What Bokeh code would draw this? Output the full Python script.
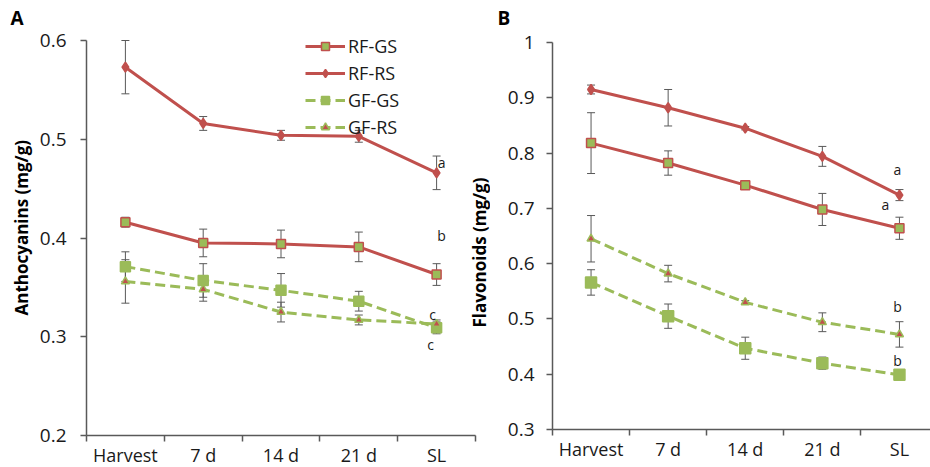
import math
from bokeh.plotting import figure
from bokeh.models import (Range1d, FixedTicker, Whisker, TeeHead, ColumnDataSource,
                          Label, Legend, LegendItem, Title)
from bokeh.layouts import row
from bokeh.embed import file_html
from bokeh.resources import INLINE
from bokeh.core.properties import value

categories = ["Harvest", "7 d", "14 d", "21 d", "SL"]
series_names = ["RF-GS", "RF-RS", "GF-GS", "GF-RS"]

# Panel A: anthocyanins (mg/g)
antho_rf_gs = [0.416, 0.395, 0.394, 0.391, 0.363]
antho_rf_gs_err = [0.005, 0.014, 0.014, 0.015, 0.011]
antho_rf_rs = [0.573, 0.516, 0.504, 0.503, 0.466]
antho_rf_rs_err = [0.027, 0.007, 0.005, 0.006, 0.017]
antho_gf_gs = [0.371, 0.357, 0.347, 0.336, 0.309]
antho_gf_gs_err = [0.015, 0.017, 0.017, 0.010, 0.006]
antho_gf_rs = [0.356, 0.348, 0.325, 0.317, 0.313]
antho_gf_rs_err = [0.022, 0.012, 0.010, 0.005, 0.004]

# Panel B: flavonoids (mg/g)
flav_rf_gs = [0.818, 0.782, 0.742, 0.698, 0.664]
flav_rf_gs_err = [0.055, 0.022, 0.003, 0.029, 0.020]
flav_rf_rs = [0.915, 0.882, 0.845, 0.794, 0.724]
flav_rf_rs_err = [0.008, 0.033, 0.003, 0.018, 0.010]
flav_gf_gs = [0.566, 0.505, 0.447, 0.420, 0.399]
flav_gf_gs_err = [0.023, 0.022, 0.020, 0.011, 0.004]
flav_gf_rs = [0.645, 0.582, 0.530, 0.494, 0.472]
flav_gf_rs_err = [0.042, 0.015, 0.003, 0.017, 0.023]

y_ticks_a = [0.2, 0.3, 0.4, 0.5, 0.6]
y_tick_labels_a = ["0.2", "0.3", "0.4", "0.5", "0.6"]
y_ticks_b = [0.3, 0.4, 0.5, 0.6, 0.7, 0.8, 0.9, 1]
y_tick_labels_b = ["0.3", "0.4", "0.5", "0.6", "0.7", "0.8", "0.9", "1"]

# significance letters at SL (order: RF-RS, RF-GS, GF-RS, GF-GS)
letters_a = ["a", "b", "c", "c"]
letters_b = ["a", "a", "b", "b"]

RED = "#C0504D"
GREEN = "#9BBB59"
AXIS = "#595959"
TXT = "#1a1a1a"
FONT = "Open Sans"

xs = list(range(1, len(categories) + 1))
TOP, BOTTOM = 32, 32


def make_panel(fw, fh, bl, px_x, px_y, y_start, yticks, ylabels, y_standoff, title):
    p = figure(frame_width=fw, frame_height=fh,
               x_range=Range1d(0.5, 0.5 + fw / px_x),
               y_range=Range1d(y_start, y_start + fh / px_y), output_backend="svg",
               toolbar_location=None, min_border_left=bl, min_border_right=0,
               min_border_top=TOP, min_border_bottom=BOTTOM, title=title)
    p.xgrid.visible = False
    p.ygrid.visible = False
    p.outline_line_color = None
    p.background_fill_color = "white"
    p.border_fill_color = "white"
    p.xaxis.bounds = (0.5, 0.5 + len(categories))
    p.xaxis.ticker = FixedTicker(ticks=xs, minor_ticks=[i + 0.5 for i in range(len(categories) + 1)])
    p.xaxis.major_label_overrides = {x: c for x, c in zip(xs, categories)}
    p.xaxis.major_tick_out = 0
    p.xaxis.major_tick_in = 0
    p.xaxis.minor_tick_out = 6
    p.xaxis.minor_tick_in = 0
    p.xaxis.minor_tick_line_color = AXIS
    p.xaxis.minor_tick_line_width = 1.5
    p.xaxis.major_label_standoff = 1
    p.xaxis.major_label_text_font_size = "18px"
    p.yaxis.bounds = (yticks[0], yticks[-1])
    p.yaxis.ticker = FixedTicker(ticks=yticks, minor_ticks=[])
    p.yaxis.major_label_overrides = {t: l for t, l in zip(yticks, ylabels)}
    p.yaxis.major_tick_out = 6
    p.yaxis.major_tick_in = 0
    p.yaxis.major_label_standoff = y_standoff
    p.yaxis.major_label_text_font_size = "19px"
    for ax in (p.xaxis, p.yaxis):
        ax.axis_line_color = AXIS
        ax.axis_line_width = 1.5
        ax.major_tick_line_color = AXIS
        ax.major_tick_line_width = 1.5
        ax.major_label_text_font = FONT
        ax.major_label_text_color = TXT
    p.title.align = "left"
    p.title.standoff = 4
    p.title.text_font = FONT
    p.title.text_font_size = "19px"
    p.title.text_font_style = "bold"
    p.title.text_color = "black"
    return p


def add_series(p, vals, errs, line_color, dash, marker, m_size, m_fill, m_line):
    lr = p.line(xs, vals, line_color=line_color, line_width=3, line_dash=dash)
    sr = p.scatter(xs, vals, marker=marker, size=m_size, fill_color=m_fill,
                   line_color=m_line, line_width=1.5)
    src = ColumnDataSource(dict(x=xs, upper=[v + e for v, e in zip(vals, errs)],
                                lower=[v - e for v, e in zip(vals, errs)]))
    p.add_layout(Whisker(source=src, base="x", upper="upper", lower="lower",
                         line_color=AXIS, line_width=1,
                         upper_head=TeeHead(size=8, line_color=AXIS, line_width=1),
                         lower_head=TeeHead(size=8, line_color=AXIS, line_width=1)))
    return [lr, sr]


def add_letters(p, letters, bases, offsets, px_x, px_y):
    sl = xs[-1]
    lx = [sl + dx / px_x for dx, dy in offsets]
    ly = [b[-1] + dy / px_y for b, (dx, dy) in zip(bases, offsets)]
    p.text(x=lx, y=ly, text=letters, text_font=value(FONT), text_font_size="14px",
           text_align="center", text_baseline="middle", text_color=TXT)


# ---------- Panel A ----------
PXA, PYA = 77.8, 395 / 0.4
FWA, FHA = 404, 403
pa = make_panel(FWA, FHA, 86, PXA, PYA, 0.2, y_ticks_a, y_tick_labels_a, 14, "A")
pa.title.offset = -76
ra1 = add_series(pa, antho_rf_gs, antho_rf_gs_err, RED, "solid", "square", 9, GREEN, RED)
ra2 = add_series(pa, antho_rf_rs, antho_rf_rs_err, RED, "solid", "diamond", 10, RED, RED)
ra3 = add_series(pa, antho_gf_gs, antho_gf_gs_err, GREEN, "10 5", "square", 10, GREEN, GREEN)
ra4 = add_series(pa, antho_gf_rs, antho_gf_rs_err, GREEN, "10 5", "triangle", 8, RED, GREEN)
add_letters(pa, letters_a, [antho_rf_rs, antho_rf_gs, antho_gf_rs, antho_gf_gs],
            [(5, 10), (5, 39), (-4, 9), (-6, -17)], PXA, PYA)

legend = Legend(items=[LegendItem(label=n, renderers=r) for n, r in
                       zip(series_names, [ra1, ra2, ra3, ra4])],
                location=(219, 296), orientation="vertical",
                border_line_color=None, background_fill_alpha=0, padding=0, margin=0,
                spacing=3, glyph_width=40, glyph_height=20, label_height=20,
                label_standoff=3, label_text_font=FONT, label_text_font_size="18px",
                label_text_color=TXT)
pa.add_layout(legend)
pa.add_layout(Title(text="Anthocyanins (mg/g)", align="left", offset=120, standoff=8,
                    text_font=FONT, text_font_size="17px", text_font_style="bold",
                    text_color="black"), "left")
# y-axis title of panel B sits in the gap between the two panels
pa.add_layout(Label(x=0.5 + (478.5 - 86) / PXA, y=0.2 + 183 / PYA, text="Flavonoids (mg/g)",
                    angle=math.pi / 2, text_font=FONT, text_font_size="17px",
                    text_font_style="bold", text_color="black",
                    text_align="center", text_baseline="middle"))

# ---------- Panel B ----------
PXB, PYB = 77.1, 387 / 0.7
FWB, FHB = 378, 397
pb = make_panel(FWB, FHB, 62, PXB, PYB, 0.3, y_ticks_b, y_tick_labels_b, 12, "B")
pb.title.offset = -55
add_series(pb, flav_rf_gs, flav_rf_gs_err, RED, "solid", "square", 9, GREEN, RED)
add_series(pb, flav_rf_rs, flav_rf_rs_err, RED, "solid", "diamond", 10, RED, RED)
add_series(pb, flav_gf_gs, flav_gf_gs_err, GREEN, "10 5", "square", 11, GREEN, GREEN)
add_series(pb, flav_gf_rs, flav_gf_rs_err, GREEN, "10 5", "triangle", 8, RED, GREEN)
add_letters(pb, letters_b, [flav_rf_rs, flav_rf_gs, flav_gf_rs, flav_gf_gs],
            [(-2, 26), (-14, 24), (-2, 28), (-2, 14)], PXB, PYB)

layout = row(pa, pb)
open("out.html", "w").write(file_html(layout, INLINE))
